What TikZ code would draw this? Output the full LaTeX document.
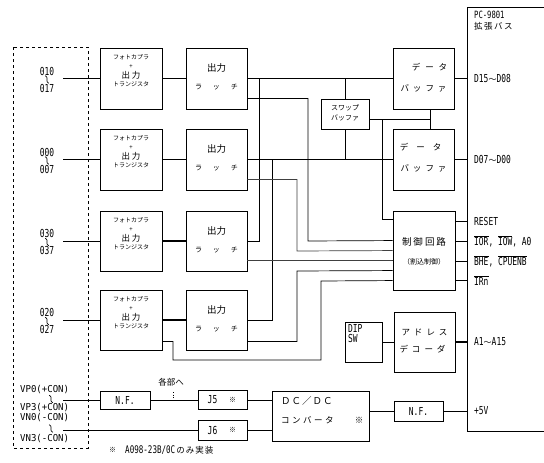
\documentclass[tikz,border=0pt]{standalone}
\usepackage{fontspec}
\usetikzlibrary{calc}
\newfontfamily\jp{Noto Sans CJK JP}
\newfontfamily\lat[FakeStretch=0.72]{DejaVu Sans Mono}
\newfontfamily\latn[FakeStretch=0.95]{DejaVu Sans Mono}
\newcommand{\ovl}[1]{$\overline{\hbox{#1}}$}
\newcommand{\wv}{{\jp\fontsize{8}{8}\selectfont 〜}}
\newcommand{\pctxt}[1]{%
  \node[jsm] (#1t1) at ([yshift=-10pt]#1.north) {フォトカプラ};
  \node[jsm] (#1t2) at ([yshift=-19pt]#1.north) {+};
  \node[jmd] (#1t3) at ([yshift=-28pt]#1.north) {出\hspace{2pt}力};
  \node[jsm] (#1t4) at ([yshift=-37pt]#1.north) {トランジスタ};}
\newcommand{\latxt}[1]{%
  \node[jlg] (#1t1) at ([yshift=-20pt]#1.north) {出力};
  \node[jsn] (#1t2) at ([yshift=-40pt]#1.north) {ラ\hspace{11pt}ッ\hspace{11pt}チ};}
% vertical wave dash drawn as a short squiggle centred at (#1,#2)
\newcommand{\vwave}[2]{%
  \draw[line width=0.7pt] (#1-1.8,#2-3.8) .. controls (#1+2.2,#2-2.2) and (#1-2.2,#2+2.2) .. (#1+1.8,#2+3.8);}
\newcommand{\inlab}[4]{%
  \node[lt] (#1a) at (47,#2-7.5) {#3};
  \vwave{47}{#2+1}
  \node[lt] (#1c) at (47,#2+9.5) {#4};}
\begin{document}
\begin{tikzpicture}[x=1pt,y=-1pt,
  box/.style={draw, line width=0.9pt, inner sep=0pt},
  wire/.style={line width=0.7pt},
  dbus/.style={line width=1.7pt},
  jsm/.style={font=\jp\fontsize{6}{6}\selectfont, inner sep=0pt},
  jsn/.style={font=\jp\fontsize{7}{7}\selectfont, inner sep=0pt},
  jmd/.style={font=\jp\fontsize{8.5}{8.5}\selectfont, inner sep=0pt},
  jlg/.style={font=\jp\fontsize{9.5}{9.5}\selectfont, inner sep=0pt},
  lt/.style={font=\lat\fontsize{11}{11}\selectfont, inner sep=0pt},
  ltn/.style={font=\latn\fontsize{9.5}{9.5}\selectfont, inner sep=0pt, anchor=west},
  rl/.style={font=\lat\fontsize{11}{11}\selectfont, inner sep=0pt, anchor=west}]
\useasboundingbox[fill=white] (0,0) rectangle (544,463);

% dashed connector block
\draw[line width=0.8pt, dash pattern=on 3pt off 3pt] (13,47) rectangle (88,448);

% photocoupler boxes
\node[box, minimum width=62pt, minimum height=61pt] (pc1) at (131,78.5) {};
\node[box, minimum width=62pt, minimum height=61pt] (pc2) at (131,159.5) {};
\node[box, minimum width=62pt, minimum height=60pt] (pc3) at (131,241) {};
\node[box, minimum width=62pt, minimum height=60pt] (pc4) at (131,320) {};
\pctxt{pc1}\pctxt{pc2}\pctxt{pc3}\pctxt{pc4}

% latches
\node[box, minimum width=61pt, minimum height=61pt] (la1) at (216.5,78.5) {};
\node[box, minimum width=61pt, minimum height=61pt] (la2) at (216.5,159.5) {};
\node[box, minimum width=61pt, minimum height=60pt] (la3) at (216.5,241) {};
\node[box, minimum width=61pt, minimum height=60pt] (la4) at (216.5,320) {};
\latxt{la1}\latxt{la2}\latxt{la3}\latxt{la4}

% data buffers
\node[box, minimum width=61pt, minimum height=61pt] (buf1) at (423.5,78.5) {};
\node[jmd] (buf1a) at ([yshift=-20pt,xshift=6pt]buf1.north) {デ\hspace{5pt}ー\hspace{5pt}タ};
\node[jmd] (buf1b) at ([yshift=-41pt]buf1.north) {バ\hspace{4pt}ッ\hspace{4pt}フ\hspace{4pt}ァ};
\node[box, minimum width=61pt, minimum height=61pt] (buf2) at (423.5,159.5) {};
\node[jmd] (buf2a) at ([yshift=-19pt,xshift=-3pt]buf2.north) {デ\hspace{8pt}ー\hspace{8pt}タ};
\node[jmd] (buf2b) at ([yshift=-40pt]buf2.north) {バ\hspace{4pt}ッ\hspace{4pt}フ\hspace{4pt}ァ};

% swap buffer
\node[box, minimum width=48pt, minimum height=30pt] (swap) at (345,114) {};
\node[jsn] (swapa) at ([yshift=-9pt]swap.north) {スワップ};
\node[jsn] (swapb) at ([yshift=-19pt]swap.north) {バッファ};

% control circuit
\node[box, minimum width=62pt, minimum height=79pt] (ctrl) at (424,250.5) {};
\node[jlg] (ctrla) at ([yshift=-31pt]ctrl.north) {制\hspace{2pt}御\hspace{2pt}回\hspace{2pt}路};
\node[jsn] (ctrlb) at ([yshift=-51pt]ctrl.north) {（割込制御）};

% address decoder and DIP SW
\node[box, minimum width=61pt, minimum height=60pt] (dec) at (424.5,342) {};
\node[jmd] (deca) at ([yshift=-21pt]dec.north) {ア\hspace{4pt}ド\hspace{4pt}レ\hspace{4pt}ス};
\node[jmd] (decb) at ([yshift=-38pt,xshift=-2pt]dec.north) {デ\hspace{4pt}コ\hspace{4pt}ー\hspace{4pt}ダ};
\node[box, minimum width=37pt, minimum height=40pt] (dip) at (363.5,342) {};
\node[rl] (dipa) at (348,328) {DIP};
\node[rl] (dipb) at (348,338) {SW};

% power section
\node[box, minimum width=50pt, minimum height=18pt] (nf1) at (125,400) {};
\node[lt] (nf1t) at (nf1) {N.F.};
\node[box, minimum width=49pt, minimum height=19pt] (j5) at (222.5,400) {};
\node[lt] (j5t) at ([xshift=-10pt]j5.center) {J5};
\node[jsn] (j5s) at ([xshift=10pt]j5.center) {※};
\node[box, minimum width=49pt, minimum height=20pt] (j6) at (222.5,430) {};
\node[lt] (j6t) at ([xshift=-10pt]j6.center) {J6};
\node[jsn] (j6s) at ([xshift=10pt]j6.center) {※};
\node[box, minimum width=97pt, minimum height=50pt] (dcdc) at (320.5,416) {};
\node[jlg, anchor=west] (dcdca) at (281,401) {Ｄ\hspace{1pt}Ｃ\hspace{1pt}／\hspace{1pt}Ｄ\hspace{1pt}Ｃ};
\node[jmd, anchor=west] (dcdcb) at (281,420) {コ\hspace{2.5pt}ン\hspace{2.5pt}バ\hspace{2.5pt}ー\hspace{2.5pt}タ};
\node[jmd] (dcdcs) at (359,420) {※};
\node[box, minimum width=49pt, minimum height=20pt] (nf2) at (418.5,411) {};
\node[lt] (nf2t) at (nf2) {N.F.};

% input labels
\inlab{i1}{78.5}{010}{017}
\inlab{i2}{159.5}{000}{007}
\inlab{i3}{241}{030}{037}
\inlab{i4}{320}{020}{027}
\node[ltn] (vp0) at (20,390) {VP0(+CON)};
\vwave{51}{399}
\node[ltn] (vp3) at (20,408) {VP3(+CON)};
\node[ltn] (vn0) at (20,418) {VN0(-CON)};
\vwave{51}{428.5}
\node[ltn] (vn3) at (20,439) {VN3(-CON)};
\node[jmd] (kakubu) at (171,382) {各部へ};
\node[jsn, anchor=west] (notes) at (109,450) {※};
\node[rl, font=\lat\fontsize{10.5}{10.5}\selectfont] (notet) at (125,450) {A098-23B/0C\jp\fontsize{8.5}{8.5}\selectfont\hspace{1pt}の\hspace{1pt}み\hspace{1pt}実\hspace{1pt}装};

% bus
\coordinate (bustop) at (467,7);
\coordinate (busbot) at (467,431);
\coordinate (busr1) at (544,7);
\coordinate (busr2) at (544,431);
\draw[line width=1pt] (busr1) -- (bustop) -- (busbot) -- (busr2);
\node[rl, font=\lat\fontsize{10}{10}\selectfont] (pcname) at (474,15) {PC-9801};
\node[jmd, anchor=west] (pcbus) at (474,26) {拡\hspace{1.5pt}張\hspace{1.5pt}バ\hspace{1.5pt}ス};

% input lines
\coordinate (in1) at (63,78.5);
\coordinate (in2) at (63,159.5);
\coordinate (in3) at (63,241);
\coordinate (in4) at (63,320);
\foreach \i in {1,2,3,4} {\draw[wire] (in\i) -- (in\i -| pc\i.west);}
\foreach \i in {1,2,3,4} {\draw[dbus] (pc\i) -- (la\i);}

% data buses
\draw[dbus] (la1) -- (buf1);
\draw[dbus] (la2) -- (buf2);
\draw[dbus] (buf1.east) -- (buf1.east -| bustop);
\draw[dbus] (buf2.east) -- (buf2.east -| bustop);
\node[rl] (d1) at ([xshift=7pt]buf1.east -| bustop) {D15\wv D08};
\node[rl] (d2) at ([xshift=7pt]buf2.east -| bustop) {D07\wv D00};

% swap buffer connections
\draw[wire] (swap.north) -- (swap.north |- buf1.west);
\draw[wire] (swap.south) -- (swap.south |- buf2.west);
\coordinate (sj) at (430,119);
\coordinate (sk) at (382,119);
\draw[wire] (buf1.south -| sj) -- (buf2.north -| sj);
\draw[wire] (swap.east |- sj) -- (sj);
\draw[wire] (sk) |- ([yshift=-9pt]ctrl.north west);

% latch outputs
\coordinate (c3) at (259,0);
\coordinate (c4) at (272,0);
\draw[wire] (la3.east) -| (c3 |- la1.east);
\draw[wire] (la4.east) -| (c4 |- la2.east);
\draw[wire] ([yshift=-51pt]la1.north east) -| (308,241) -- ([yshift=-30pt]ctrl.north west);
\draw[wire, black!75] ([yshift=-51pt]la2.north east) -| (297,251) -- ([yshift=-40pt]ctrl.north west);
\draw[wire, black!75] ([yshift=-50pt]la3.north east) -- ([yshift=-50pt]ctrl.north west);
\draw[wire] ([yshift=-52pt]la4.north east) -| (297,271) -- ([yshift=-60pt]ctrl.north west);
\draw[wire] ([yshift=-52pt]pc4.north east) -| (173,360) -| (321,281) -- ([yshift=-70pt]ctrl.north west);

% control outputs
\coordinate (o1) at ([yshift=-11pt]ctrl.north east);
\coordinate (o2) at ([yshift=-31pt]ctrl.north east);
\coordinate (o3) at ([yshift=-51pt]ctrl.north east);
\coordinate (o4) at ([yshift=-70pt]ctrl.north east);
\foreach \i in {1,2,3,4} {\draw[wire] (o\i) -- (o\i -| bustop);}
\node[rl] (r1) at ([xshift=7pt]o1 -| bustop) {RESET};
\node[rl] (r2) at ([xshift=7pt]o2 -| bustop) {\ovl{IOR}, \ovl{IOW}, A0};
\node[rl] (r3) at ([xshift=7pt]o3 -| bustop) {\ovl{BHE}, \ovl{CPUENB}};
\node[rl] (r4) at ([xshift=7pt]o4 -| bustop) {\ovl{IRn}};

% decoder
\draw[wire] (dip) -- (dec);
\draw[dbus] (dec.east) -- (dec.east -| bustop);
\node[rl] (a1) at ([xshift=7pt]dec.east -| bustop) {A1\wv A15};

% power connections
\coordinate (vin1) at (63,400);
\coordinate (vin2) at (63,430);
\draw[wire] (vin1) -- (vin1 -| nf1.west);
\draw[wire] (nf1) -- (j5);
\draw[wire] (vin2) -- (vin2 -| j6.west);
\draw[wire] (j5.east) -- (j5.east -| dcdc.west);
\draw[wire] (j6.east) -- (j6.east -| dcdc.west);
\draw[wire] (dcdc.east |- nf2.west) -- (nf2.west);
\draw[wire] (nf2.east) -- (nf2.east -| bustop);
\node[rl] (p5) at ([xshift=7pt]nf2.east -| bustop) {+5V};
\coordinate (tick) at (173,392);
\draw[wire, dotted] (tick) -- (tick |- nf1.east);
\end{tikzpicture}
\end{document}
